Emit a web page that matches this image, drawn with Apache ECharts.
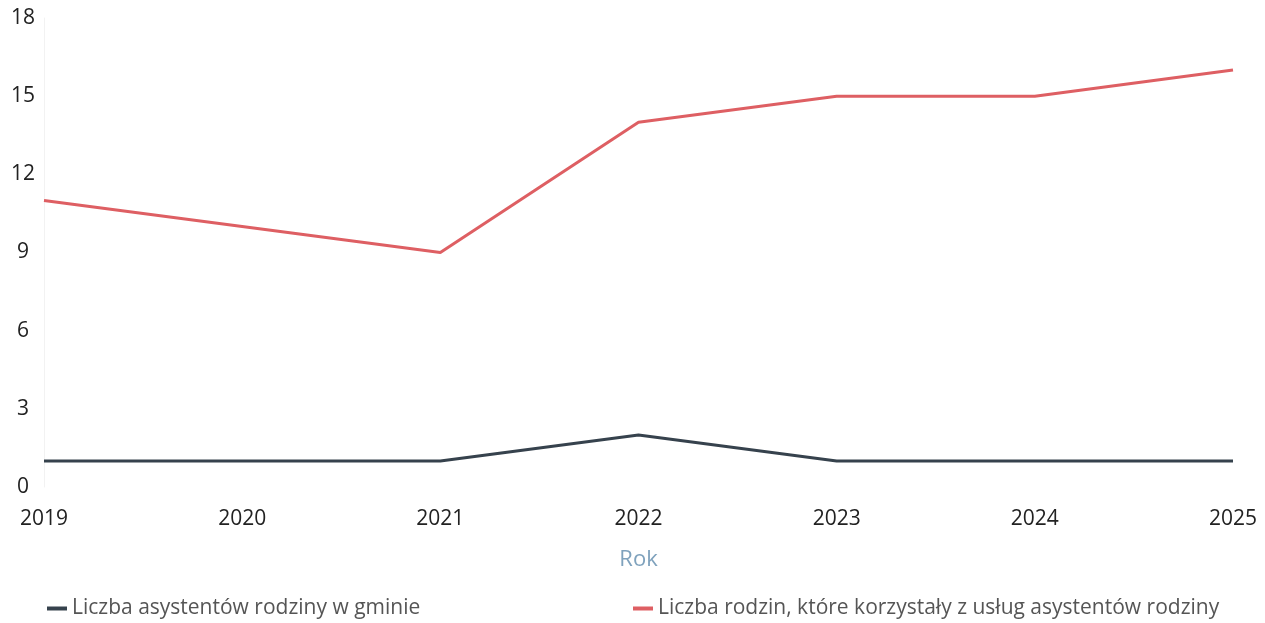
<!DOCTYPE html>
<html>
<head>
<meta charset="utf-8">
<script src="https://cdn.jsdelivr.net/npm/echarts@6/dist/echarts.min.js"></script>
<style>
  html, body { margin: 0; padding: 0; background: #fff; }
  #chart { width: 1265px; height: 623px; }
</style>
</head>
<body>
<div id="chart"></div>
<script>
  // dane z wykresu
  var years = ['2019', '2020', '2021', '2022', '2023', '2024', '2025'];
  var asystenci = [1, 1, 1, 2, 1, 1, 1];
  var rodziny = [11, 10, 9, 14, 15, 15, 16];
  var nameAsystenci = 'Liczba asystentów rodziny w gminie';
  var nameRodziny = 'Liczba rodzin, które korzystały z usług asystentów rodziny';

  var font = '"Open Sans", "Noto Sans", sans-serif';
  var myChart = echarts.init(document.getElementById('chart'));

  var option = {
    backgroundColor: '#fff',
    animation: false,
    textStyle: { fontFamily: font },
    grid: { left: 44, right: 32, top: 18, bottom: 136 },
    legend: [
      {
        data: [nameAsystenci],
        left: 42, top: 593,
        icon: 'rect', itemWidth: 20, itemHeight: 4, itemGap: 6,
        textStyle: { fontSize: 21, color: '#555', fontFamily: font }
      },
      {
        data: [nameRodziny],
        left: 628, top: 593,
        icon: 'rect', itemWidth: 20, itemHeight: 4, itemGap: 6,
        textStyle: { fontSize: 21, color: '#555', fontFamily: font }
      }
    ],
    xAxis: {
      type: 'category',
      data: years,
      boundaryGap: false,
      name: 'Rok',
      nameLocation: 'middle',
      nameGap: 62,
      nameTextStyle: { fontSize: 22, color: '#7fa2bd', fontFamily: font },
      axisLine: { show: false },
      axisTick: { show: false },
      axisLabel: { fontSize: 21, color: '#222', margin: 22, fontFamily: font }
    },
    yAxis: {
      type: 'value',
      min: 0, max: 18, interval: 3,
      axisLine: { show: true, lineStyle: { color: '#f2f2f2', width: 1 } },
      axisTick: { show: false },
      splitLine: { show: false },
      axisLabel: { fontSize: 21, color: '#222', align: 'center', margin: 21, fontFamily: font }
    },
    series: [
      {
        name: nameAsystenci,
        type: 'line',
        data: asystenci,
        symbol: 'none',
        color: '#36424d',
        lineStyle: { width: 3, color: '#36424d' }
      },
      {
        name: nameRodziny,
        type: 'line',
        data: rodziny,
        symbol: 'none',
        color: '#de5f63',
        lineStyle: { width: 3, color: '#de5f63' }
      }
    ]
  };

  myChart.setOption(option);
</script>
</body>
</html>
